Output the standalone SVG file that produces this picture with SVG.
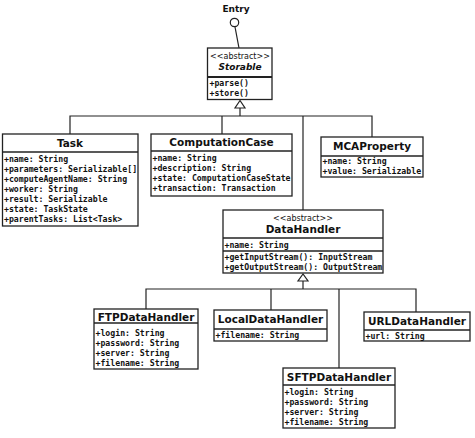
<svg xmlns="http://www.w3.org/2000/svg" width="475" height="438" viewBox="0 0 475 438">
  <style>
    .box { fill: #ffffff; stroke: #222222; stroke-width: 1.3; }
    .sep { stroke: #222222; stroke-width: 1.3; }
    .title { font-family: "DejaVu Sans", sans-serif; font-weight: bold; font-size: 10.5px; fill: #111111; text-anchor: middle; }
    .stereo { font-family: "DejaVu Sans", sans-serif; font-size: 8px; fill: #111111; text-anchor: middle; }
    .member { font-family: "DejaVu Sans Mono", monospace; font-weight: bold; font-size: 8.2px; fill: #111111; }
    .link { fill: none; stroke: #222222; stroke-width: 1.2; }
    .gen { fill: #ffffff; stroke: #222222; stroke-width: 1.2; }
  </style>

  <!-- connectors -->
  <g id="connectors">
    <!-- Entry interface lollipop -->
    <line class="link" x1="235" y1="27" x2="239" y2="48"/>
    <circle cx="234.5" cy="22.5" r="4.2" class="gen"/>
    <!-- Storable generalization tree -->
    <polyline class="link" points="240,108 240,116"/>
    <polyline class="link" points="70,134 70,116 372,116 372,137"/>
    <line class="link" x1="222" y1="116" x2="222" y2="134"/>
    <line class="link" x1="303" y1="116" x2="303" y2="210"/>
    <polygon class="gen" points="240,100.5 235,108 245,108"/>
    <!-- DataHandler generalization tree -->
    <polyline class="link" points="303,281 303,289"/>
    <polyline class="link" points="146,309 146,289 416,289 416,312"/>
    <line class="link" x1="271" y1="289" x2="271" y2="310"/>
    <line class="link" x1="339" y1="289" x2="339" y2="368"/>
    <polygon class="gen" points="303,274 298,281 308,281"/>
  </g>

  <text x="236" y="12" class="title" style="font-size:9px">Entry</text>

  <g id="storable">
    <rect class="box" x="207.5" y="48" width="64.5" height="51.5"/>
    <text x="240" y="59" class="stereo">&lt;&lt;abstract&gt;&gt;</text>
    <text x="240" y="70" class="title" style="font-size:9px;font-style:italic">Storable</text>
    <line class="sep" x1="207.5" y1="77" x2="272" y2="77" style="stroke-width:2"/>
    <text x="209.5" y="86" class="member">+parse()</text>
    <text x="209.5" y="96" class="member">+store()</text>
  </g>

  <g id="task">
    <rect class="box" x="2.5" y="134" width="135.5" height="92"/>
    <text x="70" y="147" class="title">Task</text>
    <line class="sep" x1="2.5" y1="152" x2="138" y2="152"/>
    <text x="4" y="162" class="member">+name: String</text>
    <text x="4" y="172" class="member">+parameters: Serializable[]</text>
    <text x="4" y="182" class="member">+computeAgentName: String</text>
    <text x="4" y="192" class="member">+worker: String</text>
    <text x="4" y="202" class="member">+result: Serializable</text>
    <text x="4" y="212" class="member">+state: TaskState</text>
    <text x="4" y="222" class="member">+parentTasks: List&lt;Task&gt;</text>
  </g>

  <g id="computation-case">
    <rect class="box" x="151" y="134" width="141" height="62"/>
    <text x="221.5" y="146" class="title">ComputationCase</text>
    <line class="sep" x1="151" y1="151" x2="292" y2="151"/>
    <text x="152.5" y="161" class="member">+name: String</text>
    <text x="152.5" y="171" class="member">+description: String</text>
    <text x="152.5" y="181" class="member">+state: ComputationCaseState</text>
    <text x="152.5" y="191" class="member">+transaction: Transaction</text>
  </g>

  <g id="mca-property">
    <rect class="box" x="321" y="137" width="102" height="40"/>
    <text x="372" y="150" class="title">MCAProperty</text>
    <line class="sep" x1="321" y1="156" x2="423" y2="156"/>
    <text x="322.5" y="164" class="member">+name: String</text>
    <text x="322.5" y="174" class="member">+value: Serializable</text>
  </g>

  <g id="data-handler">
    <rect class="box" x="223" y="210" width="160" height="63"/>
    <text x="303" y="220.5" class="stereo">&lt;&lt;abstract&gt;&gt;</text>
    <text x="303" y="233" class="title">DataHandler</text>
    <line class="sep" x1="223" y1="238" x2="383" y2="238"/>
    <text x="224.5" y="248" class="member">+name: String</text>
    <line class="sep" x1="223" y1="251" x2="383" y2="251"/>
    <text x="224.5" y="260" class="member">+getInputStream(): InputStream</text>
    <text x="224.5" y="270" class="member">+getOutputStream(): OutputStream</text>
  </g>

  <g id="ftp-data-handler">
    <rect class="box" x="94" y="309" width="104" height="60"/>
    <text x="146" y="321" class="title">FTPDataHandler</text>
    <line class="sep" x1="94" y1="323" x2="198" y2="323"/>
    <text x="95.5" y="336" class="member">+login: String</text>
    <text x="95.5" y="346" class="member">+password: String</text>
    <text x="95.5" y="356" class="member">+server: String</text>
    <text x="95.5" y="366" class="member">+filename: String</text>
  </g>

  <g id="local-data-handler">
    <rect class="box" x="214" y="310" width="113" height="31"/>
    <text x="270.5" y="323" class="title">LocalDataHandler</text>
    <line class="sep" x1="214" y1="329" x2="327" y2="329"/>
    <text x="215.5" y="338" class="member">+filename: String</text>
  </g>

  <g id="url-data-handler">
    <rect class="box" x="364" y="312" width="106" height="29"/>
    <text x="417" y="325" class="title">URLDataHandler</text>
    <line class="sep" x1="364" y1="330" x2="470" y2="330"/>
    <text x="365.5" y="339" class="member">+url: String</text>
  </g>

  <g id="sftp-data-handler">
    <rect class="box" x="283" y="368" width="112" height="60"/>
    <text x="339" y="381" class="title">SFTPDataHandler</text>
    <line class="sep" x1="283" y1="385" x2="395" y2="385"/>
    <text x="284.5" y="395" class="member">+login: String</text>
    <text x="284.5" y="405" class="member">+password: String</text>
    <text x="284.5" y="415" class="member">+server: String</text>
    <text x="284.5" y="425" class="member">+filename: String</text>
  </g>
</svg>
